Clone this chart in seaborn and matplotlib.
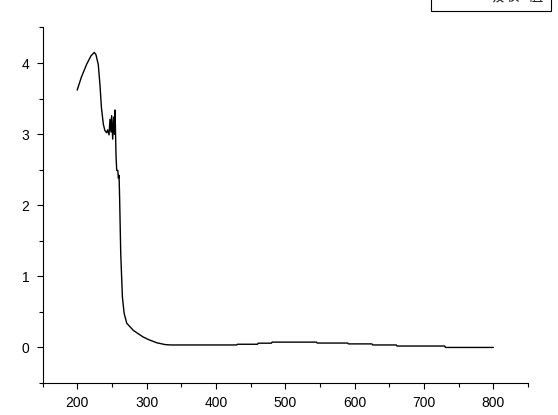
import pandas as pd
import seaborn as sns
import matplotlib.pyplot as plt
from matplotlib.ticker import MultipleLocator

# wavelength (nm) and absorbance
wavelength = [200, 206, 213.5, 219.8, 224.6, 227, 230.4, 232.8, 235, 237.7,
              240, 242.5, 243.9, 245.9, 247.3, 248.7, 249.7, 251.2, 252.6, 253.6,
              254.6, 256, 257, 258.6, 259.4, 260.4, 261.2, 262.8, 265.2, 267.7,
              271.5, 281, 294.6, 303, 315, 327, 335, 430, 431, 460,
              461, 480, 481, 545, 546, 590, 591, 625, 626, 660,
              661, 730, 731, 800]
absorbance = [3.62, 3.80, 3.98, 4.10, 4.15, 4.12, 3.98, 3.70, 3.37, 3.14,
              3.05, 3.02, 3.06, 2.99, 3.21, 3.03, 3.26, 2.93, 3.24, 3.00,
              3.34, 2.70, 2.49, 2.49, 2.38, 2.42, 2.10, 1.32, 0.71, 0.48,
              0.34, 0.24, 0.15, 0.11, 0.065, 0.04, 0.035, 0.035, 0.045, 0.045,
              0.06, 0.06, 0.075, 0.075, 0.062, 0.062, 0.05, 0.05, 0.035, 0.035,
              0.02, 0.02, 0.0, 0.0]
legend_label = "吸收  值"

df = pd.DataFrame({"wavelength": wavelength, "absorbance": absorbance})

sns.set_style("ticks")
plt.rcParams['font.family'] = ['Liberation Sans', 'Noto Sans CJK SC', 'DejaVu Sans']

fig = plt.figure(figsize=(5.58, 4.15), dpi=100)
ax = fig.add_axes([42.5 / 558, 1 - 383 / 415, (528 - 42.5) / 558, (383 - 27.5) / 415])

sns.lineplot(data=df, x="wavelength", y="absorbance", ax=ax, color="black",
             linewidth=1.0, sort=False, estimator=None, label=legend_label)

ax.set_xlim(150, 850)
ax.set_ylim(-0.5, 4.5)
ax.xaxis.set_major_locator(MultipleLocator(100))
ax.xaxis.set_minor_locator(MultipleLocator(50))
ax.yaxis.set_major_locator(MultipleLocator(1))
ax.yaxis.set_minor_locator(MultipleLocator(0.5))
ax.set_xticks([200, 300, 400, 500, 600, 700, 800])
ax.set_xlabel("")
ax.set_ylabel("")

for side in ["top", "right"]:
    ax.spines[side].set_visible(False)
for side in ["left", "bottom"]:
    ax.spines[side].set_linewidth(0.8)
    ax.spines[side].set_color("black")

ax.tick_params(which="major", length=4.5, width=0.8, color="black",
               labelsize=10, labelcolor="black", pad=5)
ax.tick_params(which="minor", length=3, width=0.8, color="black")

leg = ax.legend(loc="lower left", bbox_to_anchor=(430.5 / 558, 1 - 11.5 / 415),
                bbox_transform=fig.transFigure, frameon=True, fancybox=False,
                fontsize=11, handlelength=2.6, handletextpad=0.72,
                borderpad=0.5, borderaxespad=0)
leg.get_frame().set_edgecolor("black")
leg.get_frame().set_linewidth(0.8)
leg.get_frame().set_alpha(1)

fig.savefig("out.png", dpi=100)
